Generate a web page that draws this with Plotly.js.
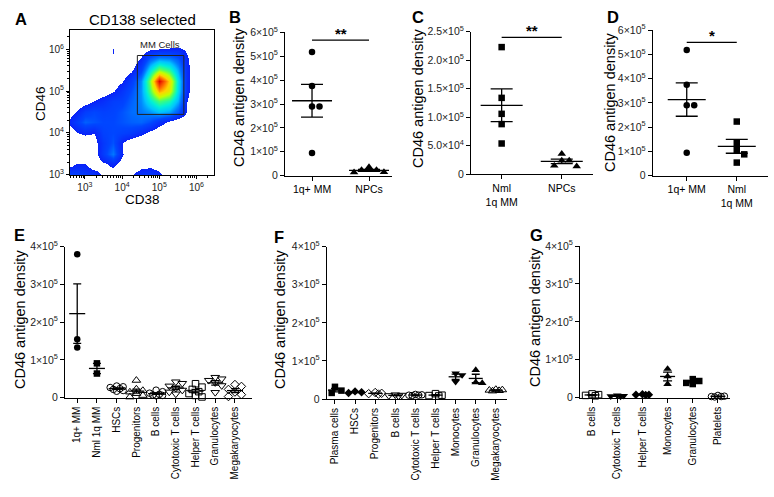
<!DOCTYPE html>
<html><head><meta charset="utf-8">
<script src="https://cdn.plot.ly/plotly-3.0.1.min.js"></script>
<style>html,body{margin:0;padding:0;background:#fff}#chart{width:774px;height:497px}</style>
</head><body><div id="chart"></div>
<script>
// ================= DATA =================
// Panel A: flow-cytometry density on a log10 grid
const densX = [2.5,2.75,3.0,3.25,3.5,3.75,4.0,4.25,4.5,4.75,5.0,5.25,5.5,5.75,6.0,6.25,6.5];
const densY = [3.0,3.25,3.5,3.75,4.0,4.25,4.5,4.75,5.0,5.25,5.5,5.75,6.0,6.25,6.5];
const densZ = [
 [2.2,2.0,1.8,1.6,0.8,0.6,0.4,0.9,1.6,1.8,1.3,0.3,0,0,0,0,0],
 [0.3,1.05,1.0,0.3,0.8,1.2,0.6,0.2,0.5,0.6,0.4,0,0,0,0,0,0],
 [0,0.2,0.3,0.5,1.8,3.0,1.1,0.2,0,0,0,0,0,0,0,0,0],
 [0,0,0.2,0.6,1.7,2.4,1.0,0.3,0,0,0,0,0,0,0,0,0],
 [0.2,0.9,1.2,1.0,2.0,2.2,2.0,1.8,1.3,0.7,0.2,0,0,0,0,0,0],
 [0.9,1.8,2.6,2.4,2.2,2.2,2.4,2.6,2.7,2.3,1.5,0.8,0.2,0,0,0,0],
 [0.3,1.0,1.9,2.2,2.0,2.1,2.4,2.8,3.0,3.3,3.8,3.5,2.5,0.9,0,0,0],
 [0,0.2,0.5,1.0,1.4,1.9,2.0,2.6,3.2,4.5,5.5,5.0,3.6,1.0,0,0,0],
 [0,0,0,0.2,0.5,0.9,1.6,2.3,3.3,5.5,8.0,7.0,4.2,1.3,0,0,0],
 [0,0,0,0,0.2,0.5,0.9,1.8,3.2,6.0,10,7.5,4.3,1.3,0,0,0],
 [0,0,0,0,0,0,0.3,0.8,2.0,4.3,6.0,5.2,3.5,1.3,0,0,0],
 [0,0,0,0,0,0.9,0,0.3,1.2,2.8,3.6,3.4,2.6,1.2,0,0,0],
 [0,0,0,0,0,1.08,0,0,0.3,0.9,1.0,1.1,1.2,0.8,0,0,0],
 [0,0,0,0,0,0,0,0,0,0,0,0,0,0,0,0,0],
 [0,0,0,0,0,0,0,0,0,0,0,0,0,0,0,0,0]
];
const gateX = [4.41, 5.66];   // log10 CD38
const gateY = [4.44, 5.85];   // log10 CD46
const logTickVals = [3,4,5,6];
const logTickText = ['10<sup>3</sup>','10<sup>4</sup>','10<sup>5</sup>','10<sup>6</sup>'];

// Panels B-D
const catsB = ['1q+ MM','NPCs'];
const catsC = ['Nml<br>1q MM','NPCs'];
const catsD = ['1q+ MM','Nml<br>1q MM'];
const mm1qPlus = [5.18e5, 3.75e5, 2.90e5, 2.90e5, 0.95e5];
const npcs     = [2.4e4, 1.5e4, 3.6e4, 1.4e4, 2.4e4];
const nml1qMM  = [2.23e5, 1.34e5, 1.06e5, 0.88e5, 0.54e5];
const sigY     = [5.67e5, 2.40e5, 5.49e5];
const sigText  = ['**','**','*'];

// Panel E
const catsE = ['1q+ MM','Nml 1q MM','HSCs','Progenitors','B cells','Cytotoxic T cells','Helper T cells','Granulocytes','Megakaryocytes'];
const valsE = [
 [3.8e5, 1.55e5, 1.33e5],
 [0.91e5, 0.64e5],
 [3.1e4, 2.9e4, 2.7e4, 2.2e4, 1.9e4, 1.7e4, 2.4e4],
 [4.6e4, 2.3e4, 1.9e4, 1.5e4, 1.1e4, 0.6e4, 0.2e4],
 [2.0e4, 1.6e4, 1.2e4, 0.9e4, 0.7e4, 0.5e4, 0.6e4],
 [4.2e4, 3.8e4, 3.1e4, 2.5e4, 2.0e4, 1.5e4, 1.0e4],
 [3.7e4, 2.8e4, 2.2e4, 1.6e4, 1.1e4, 0.6e4, 0.2e4],
 [5.4e4, 5.0e4, 4.6e4, 4.0e4, 3.2e4, 1.4e4],
 [3.5e4, 3.0e4, 2.2e4, 1.5e4, 0.8e4, 0.3e4]
];
const symE = ['circle','square','circle-open','triangle-up-open','circle-open','triangle-down-open','square-open','triangle-down-open','diamond-open'];

// Panel F
const catsF = ['Plasma cells','HSCs','Progenitors','B cells','Cytotoxic T cells','Helper T cells','Monocytes','Granulocytes','Megakaryocytes'];
const valsF = [
 [3.2e4, 2.2e4, 1.6e4],
 [2.0e4, 1.8e4, 1.6e4],
 [1.7e4, 1.5e4, 1.4e4, 1.3e4],
 [1.1e4, 1.0e4, 0.9e4, 0.8e4],
 [1.2e4, 1.1e4, 1.0e4, 1.0e4, 0.9e4],
 [1.4e4, 1.0e4, 0.9e4, 0.8e4],
 [6.7e4, 6.3e4, 4.5e4],
 [7.6e4, 4.4e4, 4.2e4],
 [2.5e4, 2.4e4, 2.3e4, 2.2e4, 2.1e4]
];
const symF = ['square','diamond','diamond-open','triangle-down-open','circle-open','square-open','triangle-down','triangle-up','triangle-up-open'];

// Panel G
const catsG = ['B cells','Cytotoxic T cells','Helper T cells','Monocytes','Granulocytes','Platelets'];
const valsG = [
 [1.0e4, 0.8e4, 0.6e4, 0.5e4],
 [0.6e4, 0.5e4, 0.4e4, 0.3e4],
 [0.9e4, 0.8e4, 0.8e4, 0.7e4],
 [7.6e4, 5.6e4, 3.6e4],
 [4.9e4, 4.4e4, 3.9e4, 3.6e4],
 [0.6e4, 0.4e4, 0.3e4, 0.2e4, 0.3e4]
];
const symG = ['square-open','triangle-down','diamond','triangle-up','square','circle-open'];

const ticks6 = [0,1e5,2e5,3e5,4e5,5e5,6e5];
const ticks6Text = ['0','1×10<sup>5</sup>','2×10<sup>5</sup>','3×10<sup>5</sup>','4×10<sup>5</sup>','5×10<sup>5</sup>','6×10<sup>5</sup>'];
const ticksC = [0,5e4,1e5,1.5e5,2e5,2.5e5];
const ticksCText = ['0','5.0×10<sup>4</sup>','1.0×10<sup>5</sup>','1.5×10<sup>5</sup>','2.0×10<sup>5</sup>','2.5×10<sup>5</sup>'];
const ticks4 = [0,1e5,2e5,3e5,4e5];
const ticks4Text = ['0','1×10<sup>5</sup>','2×10<sup>5</sup>','3×10<sup>5</sup>','4×10<sup>5</sup>'];
const yTitle = 'CD46 antigen density';

// ================= LAYOUT HELPERS =================
const W = 774, H = 497;
const FONT = 'Liberation Sans, Arial, Helvetica, sans-serif';
const xd = p => [p[0]/W, p[1]/W];
const yd = p => [1 - p[1]/H, 1 - p[0]/H];

function stats(v){
  const n = v.length, m = v.reduce((a,b)=>a+b,0)/n;
  const sd = Math.sqrt(v.reduce((a,b)=>a+(b-m)*(b-m),0)/(n-1));
  return {m, sem: sd/Math.sqrt(n)};
}
function swarm(vals, pxV, pxC, d, step, steps){
  const order = vals.map((v,i)=>i).sort((a,b)=>vals[b]-vals[a]);
  const placed = [], off = new Array(vals.length).fill(0);
  order.forEach(i=>{
    const y = vals[i]*pxV; let best = 0, bestS = -1;
    for(let k=0;k<=2*steps;k++){
      const c = (k%2 ? 1 : -1)*Math.ceil(k/2)*step;
      let md = Infinity;
      placed.forEach(p=>{ const dd = Math.hypot(p.x-c, p.y-y); if(dd<md) md = dd; });
      if(md >= d){ best = c; break; }
      if(md > bestS){ bestS = md; best = c; }
    }
    placed.push({x:best, y}); off[i] = best/pxC;
  });
  return off;
}

const panels = [
 {id:2, px:[285,391.7], py:[32.3,175.7], xr:[-0.474,1.398], yr:[0,6e5], cats:catsB, groups:[mm1qPlus,npcs], sym:['circle','triangle-up'], size:6.5, yt:ticks6, ytt:ticks6Text, meanLen:40, cap:11, catFont:10.5, angle:0, stepF:1.15, steps:3, tpos:[239,98]},
 {id:3, px:[471,593], py:[31.7,174.3], xr:[-0.51,1.52], yr:[0,2.5e5], cats:catsC, groups:[nml1qMM,npcs], sym:['square','triangle-up'], size:6.5, yt:ticksC, ytt:ticksCText, meanLen:42, cap:11, catFont:10.5, angle:0, stepF:1.15, steps:3, tpos:[418,99]},
 {id:4, px:[652.7,768.3], py:[30,175.7], xr:[-0.68,1.63], yr:[0,6e5], cats:catsD, groups:[mm1qPlus,nml1qMM], sym:['circle','square'], size:6.5, yt:ticks6, ytt:ticks6Text, meanLen:38, cap:11, catFont:10.5, angle:0, stepF:1.15, steps:3, tpos:[610.5,102.5]},
 {id:5, px:[65,251.7], py:[246.7,397.7], xr:[-0.62,8.85], yr:[0,4e5], cats:catsE, groups:valsE, sym:symE, size:6.5, yt:ticks4, ytt:ticks4Text, meanLen:16, cap:4, catFont:10, angle:-90, stepF:0.5, steps:2, tpos:[20,320]},
 {id:6, px:[326.7,506.7], py:[246.7,399], xr:[-0.41,8.54], yr:[0,4e5], cats:catsF, groups:valsF, sym:symF, size:6.5, yt:ticks4, ytt:ticks4Text, meanLen:14, cap:4, catFont:10, angle:-90, stepF:0.5, steps:2, tpos:[280,320]},
 {id:7, px:[580,730], py:[246,397.7], xr:[-0.48,5.48], yr:[0,4e5], cats:catsG, groups:valsG, sym:symG, size:6.5, yt:ticks4, ytt:ticks4Text, meanLen:15, cap:4.5, catFont:10, angle:-90, stepF:0.5, steps:2, tpos:[535,318]}
];

const traces = [];
const layout = {
  width: W, height: H, margin:{l:0,r:0,t:0,b:0},
  paper_bgcolor:'#fff', plot_bgcolor:'rgba(0,0,0,0)',
  font:{family:FONT, color:'#000', size:10},
  showlegend:false, shapes:[], annotations:[]
};

// ---------- Panel A ----------
const minorLog = [];
for(let n=2;n<=6;n++) for(let k=2;k<=9;k++) minorLog.push(Math.log10(k*Math.pow(10,n)));
traces.push({
  type:'heatmap', x:densX, y:densY, z:densZ, xaxis:'x', yaxis:'y',
  zsmooth:'best', zmin:0, zmax:10, showscale:false, hoverinfo:'skip',
  colorscale:[[0,'#ffffff'],[0.0999,'#ffffff'],[0.1,'rgb(10,35,248)'],[0.22,'rgb(0,70,255)'],
    [0.3,'rgb(0,120,255)'],[0.38,'rgb(0,195,255)'],[0.46,'rgb(0,240,215)'],[0.55,'rgb(70,255,110)'],
    [0.65,'rgb(195,255,0)'],[0.75,'rgb(255,210,0)'],[0.85,'rgb(255,110,0)'],[1,'rgb(225,0,0)']]
});
const axA = {showline:true, linecolor:'#000', linewidth:1, mirror:true, ticks:'outside', ticklen:3, tickcolor:'#000',
  tickvals:logTickVals, ticktext:logTickText, showgrid:false, zeroline:false, tickfont:{size:10, color:'#222'},
  minor:{tickvals:minorLog, ticks:'outside', ticklen:2, tickcolor:'#000', tickwidth:1}};
layout.xaxis = Object.assign({}, axA, {domain:xd([70,214]), range:[2.6,6.47], anchor:'y'});
layout.yaxis = Object.assign({}, axA, {domain:yd([30,175]), range:[2.99,6.46], anchor:'x'});
// axis titles of panel A
layout.annotations.push({xref:'paper', yref:'paper', x:142/W, y:1-199.5/H, xanchor:'center', yanchor:'middle',
  text:'CD38', showarrow:false, font:{size:13.5}});
layout.annotations.push({xref:'paper', yref:'paper', x:40/W, y:1-104/H, xanchor:'center', yanchor:'middle',
  text:'CD46', textangle:-90, showarrow:false, font:{size:13.5}});
layout.shapes.push({type:'rect', xref:'x', yref:'y', x0:gateX[0], x1:gateX[1], y0:gateY[0], y1:gateY[1],
  line:{color:'#222', width:1}});
layout.annotations.push({xref:'paper', yref:'paper', x:142/W, y:1-19.5/H, xanchor:'center', yanchor:'middle',
  text:'CD138 selected', showarrow:false, font:{size:15}});
layout.annotations.push({xref:'paper', yref:'paper', x:160.3/W, y:1-44.3/H, xanchor:'center', yanchor:'middle',
  text:'MM Cells', showarrow:false, font:{size:9.5, color:'#222'}});

// ---------- Category panels ----------
panels.forEach((p,pi)=>{
  const xa = 'x'+p.id, ya = 'y'+p.id;
  const pxC = (p.px[1]-p.px[0])/(p.xr[1]-p.xr[0]);
  const pxV = (p.py[1]-p.py[0])/(p.yr[1]-p.yr[0]);
  const means = [], sems = [], xs = [];
  p.groups.forEach((vals,gi)=>{
    const off = swarm(vals, pxV, pxC, p.size, p.size*p.stepF, p.steps);
    const sym = p.sym[gi];
    const open = sym.indexOf('open') >= 0;
    traces.push({type:'scatter', mode:'markers', xaxis:xa, yaxis:ya, cliponaxis:false, hoverinfo:'skip',
      x: vals.map((v,i)=>gi+off[i]), y: vals,
      marker:{symbol:sym, size: sym.indexOf('triangle')>=0 ? p.size+1 : p.size, color:'#000',
        line:{color:'#000', width: open ? 1 : 0}}});
    const s = stats(vals); means.push(s.m); sems.push(s.sem); xs.push(gi);
  });
  traces.push({type:'scatter', mode:'markers', xaxis:xa, yaxis:ya, cliponaxis:false, hoverinfo:'skip',
    x:xs, y:means,
    marker:{symbol:'line-ew', size:p.meanLen/1.4, color:'#000', line:{color:'#000', width:1.3}},
    error_y:{type:'data', array:sems, visible:true, color:'#000', thickness:1.3, width:p.cap}});
  const key = p.id;
  layout['xaxis'+key] = {domain:xd(p.px), range:p.xr, anchor:ya, showline:true, linecolor:'#000', linewidth:1,
    ticks:'outside', ticklen:4, tickcolor:'#000', tickvals:p.cats.map((c,i)=>i), ticktext:p.cats,
    tickangle:p.angle, tickfont:{size:p.catFont}, showgrid:false, zeroline:false};
  layout['yaxis'+key] = {domain:yd(p.py), range:p.yr, anchor:xa, showline:true, linecolor:'#000', linewidth:1,
    ticks:'outside', ticklen:4, tickcolor:'#000', tickvals:p.yt, ticktext:p.ytt, tickfont:{size:10.5, color:'#222'},
    showgrid:false, zeroline:false};
  // y-axis title
  layout.annotations.push({xref:'paper', yref:'paper', x:p.tpos[0]/W, y:1-p.tpos[1]/H, xanchor:'center', yanchor:'middle',
    text:yTitle, textangle:-90, showarrow:false, font:{size:14.5}});
  if(pi < 3){
    layout.shapes.push({type:'line', xref:xa, yref:ya, x0:0, x1:1, y0:sigY[pi], y1:sigY[pi], line:{color:'#000', width:1.2}});
    layout.annotations.push({xref:xa, yref:ya, x:0.5, y:sigY[pi], yanchor:'bottom', yshift:-4, text:'<b>'+sigText[pi]+'</b>',
      showarrow:false, font:{size:15}});
  }
});

// Panel letters
const letters = [['A',12.7,18.7],['B',226.7,17.5],['C',410,17.5],['D',605,17.5],['E',11.7,235],['F',271.7,236.7],['G',528,235]];
letters.forEach(l=>layout.annotations.push({xref:'paper', yref:'paper', x:l[1]/W, y:1-l[2]/H, xanchor:'left', yanchor:'middle',
  text:'<b>'+l[0]+'</b>', showarrow:false, font:{size:16.5, family:'Liberation Sans, Arial, sans-serif'}}));

Plotly.newPlot('chart', traces, layout, {staticPlot:true, displayModeBar:false});
</script></body></html>
